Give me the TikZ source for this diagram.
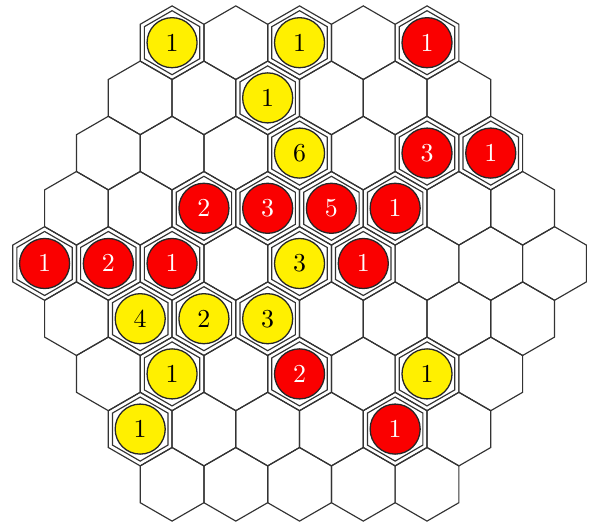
\documentclass[tikz,border=0pt]{standalone}
\usepackage{tikz}
\definecolor{yel}{RGB}{255,240,0}
\definecolor{red}{RGB}{250,0,0}

\begin{document}
\begin{tikzpicture}[x=5mm,y=5mm,
  hexline/.style={draw=black!80,line width=0.45pt,line join=miter},
  stone/.style={circle,draw=black!85,line width=0.5pt,minimum size=6.8mm,inner sep=0pt}]
\useasboundingbox (-8.14,-7.02) rectangle (7.92,7.16);
% board
\foreach \r in {1,...,9}{
  \pgfmathtruncatemacro\n{9-abs(\r-5)}
  \foreach \k in {1,...,\n}{
    \coordinate (c-\r-\k) at ({(\k-(\n+1)/2)*sqrt(3)},{(5-\r)*1.5});
    \draw[hexline,shift={(c-\r-\k)}] (90:1) -- (150:1) -- (210:1) -- (270:1) -- (330:1) -- (30:1) -- cycle;
  }
}
% yellow stones
\foreach \r/\k/\v in {1/1/1,1/3/1,2/3/1,3/4/6,5/5/3,6/2/4,6/3/2,6/4/3,7/2/1,7/6/1,8/1/1}{
  \draw[hexline,shift={(c-\r-\k)}] (90:0.87) -- (150:0.87) -- (210:0.87) -- (270:0.87) -- (330:0.87) -- (30:0.87) -- cycle;
  \node[stone,fill=yel] (s-\r-\k) at (c-\r-\k) {$\v$};
}
% red stones
\foreach \r/\k/\v in {1/5/1,3/6/3,3/7/1,4/3/2,4/4/3,4/5/5,4/6/1,5/1/1,5/2/2,5/3/1,5/6/1,7/4/2,8/5/1}{
  \draw[hexline,shift={(c-\r-\k)}] (90:0.87) -- (150:0.87) -- (210:0.87) -- (270:0.87) -- (330:0.87) -- (30:0.87) -- cycle;
  \node[stone,fill=red,text=white] (s-\r-\k) at (c-\r-\k) {$\v$};
}
\end{tikzpicture}
\end{document}
